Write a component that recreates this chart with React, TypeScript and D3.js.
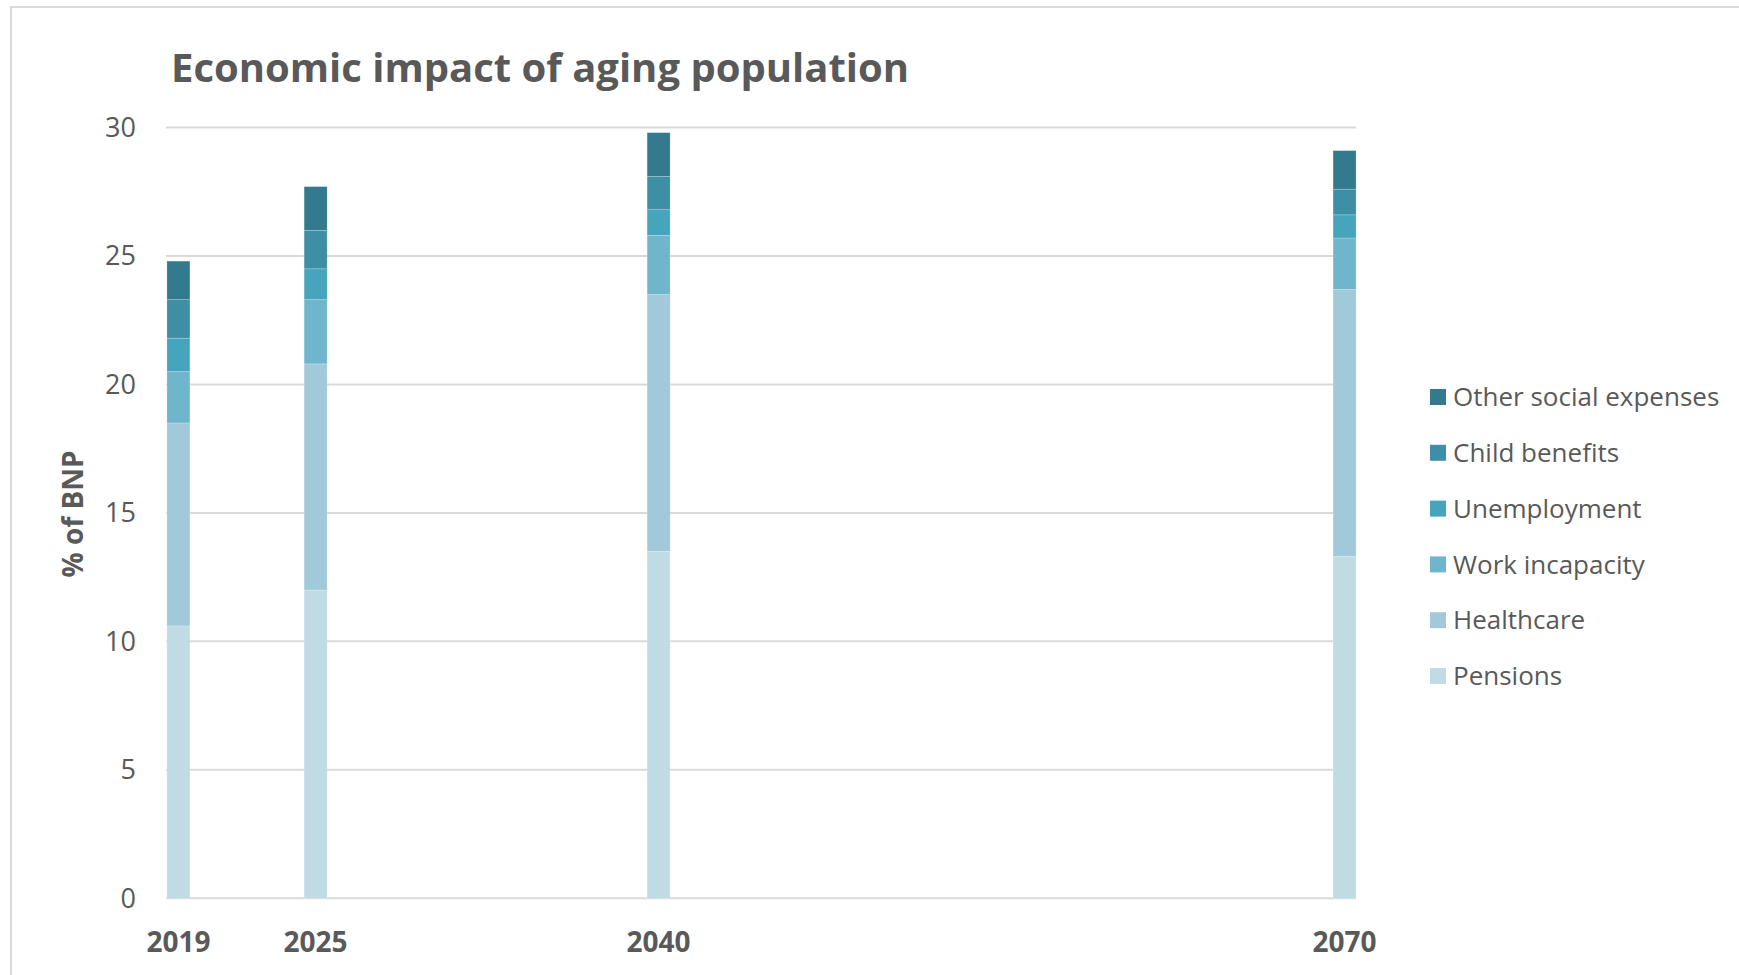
import React from "react";
import * as d3 from "d3";

const years = [2019, 2025, 2040, 2070];
const seriesNames = ["Pensions", "Healthcare", "Work incapacity", "Unemployment", "Child benefits", "Other social expenses"];
const pensions = [10.6, 12.0, 13.5, 13.3];
const healthcare = [7.9, 8.8, 10.0, 10.4];
const workIncapacity = [2.0, 2.5, 2.3, 2.0];
const unemployment = [1.3, 1.2, 1.0, 0.9];
const childBenefits = [1.5, 1.5, 1.3, 1.0];
const otherSocial = [1.5, 1.7, 1.7, 1.5];
const colors = ["#C1DBE4", "#A0C9D9", "#6FB6CD", "#47A4BD", "#3E8EA6", "#337A8E"];
const yTicks = [0, 5, 10, 15, 20, 25, 30];

const W = 1739;
const H = 975;
const left = 167;
const right = 1356;
const top = 127.5;
const bottom = 898.3;
const FONT = "'Open Sans', sans-serif";
const TXT = "#595959";

export default function App() {
  const x = d3.scaleLinear().domain([2018.5, 2070.5]).range([left, right]);
  const y = d3.scaleLinear().domain([0, 30]).range([bottom, top]);
  const values = [pensions, healthcare, workIncapacity, unemployment, childBenefits, otherSocial];
  const table = years.map((yr, i) => {
    const row: any = { year: yr };
    seriesNames.forEach((s, k) => (row[s] = values[k][i]));
    return row;
  });
  const stacked = d3.stack().keys(seriesNames)(table);
  const bw = 23;
  const legendTop = 397;
  const legendStep = 55.8;
  const legendOrder = [...seriesNames].reverse();

  return (
    <svg width={W} height={H} style={{ position: "absolute", left: 0, top: 0, background: "#fff" }}>
      <rect x={11} y={7} width={W + 20} height={H + 20} fill="#fff" stroke="#D9D9D9" strokeWidth={2} />
      <text x={171} y={82} fontFamily={FONT} fontWeight={700} fontSize={40} fill={TXT}>
        Economic impact of aging population
      </text>
      {yTicks.map((t) => (
        <g key={t}>
          <line x1={left - 1} x2={right} y1={y(t)} y2={y(t)} stroke="#D9D9D9" strokeWidth={2} />
          <text x={136} y={y(t)} dy="0.35em" textAnchor="end" fontFamily={FONT} fontSize={27} fill={TXT}>
            {t}
          </text>
        </g>
      ))}
      {stacked.map((layer, k) => (
        <g key={layer.key} fill={colors[k]}>
          {layer.map((d, i) => (
            <rect
              key={i}
              x={x(years[i]) - bw / 2}
              y={y(d[1])}
              width={bw}
              height={y(d[0]) - y(d[1])}
              stroke="#ffffff"
              strokeOpacity={0.35}
              strokeWidth={0.6}
            />
          ))}
        </g>
      ))}
      {years.map((yr) => (
        <text key={yr} x={x(yr)} y={942} dy="0.35em" textAnchor="middle" fontFamily={FONT} fontWeight={700} fontSize={28} fill={TXT}>
          {yr}
        </text>
      ))}
      <text
        transform={`translate(73,${(top + bottom) / 2 + 1}) rotate(-90)`}
        textAnchor="middle"
        dy="0.35em"
        fontFamily={FONT}
        fontWeight={700}
        fontSize={28}
        fill={TXT}
      >
        % of BNP
      </text>
      {legendOrder.map((s, j) => {
        const k = seriesNames.indexOf(s);
        const cy = legendTop + j * legendStep;
        return (
          <g key={s}>
            <rect x={1430} y={cy - 8} width={16} height={16} fill={colors[k]} />
            <text x={1453} y={cy} dy="0.35em" fontFamily={FONT} fontSize={26} fill={TXT}>
              {s}
            </text>
          </g>
        );
      })}
    </svg>
  );
}
